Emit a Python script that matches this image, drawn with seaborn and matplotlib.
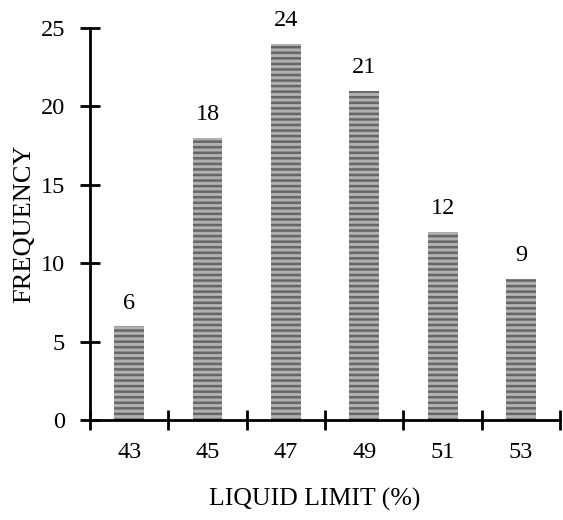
import matplotlib
matplotlib.use("Agg")
import matplotlib.pyplot as plt
import seaborn as sns
import pandas as pd
import numpy as np

categories = ["43", "45", "47", "49", "51", "53"]
frequency = [6, 18, 24, 21, 12, 9]

sns.set_style("white")
plt.rcParams['font.family'] = ['Liberation Serif', 'DejaVu Serif']
plt.rcParams['hatch.linewidth'] = 1.8
plt.rcParams['hatch.color'] = '#666666'

df = pd.DataFrame({"limit": categories, "freq": frequency})

fig = plt.figure(figsize=(5.63, 5.2), dpi=100)
ax = fig.add_axes([0.16, 0.192, 0.835, 0.754])

sns.barplot(data=df, x="limit", y="freq", ax=ax, color="#b0b0b0",
            width=0.38, saturation=1, edgecolor="none", linewidth=0)
for p in ax.patches:
    p.set_hatch('---')
    p.set_edgecolor('#666666')
    p.set_linewidth(0)

for i, v in enumerate(frequency):
    ax.text(i, v + 0.8, str(v), ha='center', va='bottom', fontsize=17.5, color='black')

ax.set_ylim(0, 25)
ax.set_xlim(-0.5, 5.5)
ax.set_yticks([0, 5, 10, 15, 20, 25])
ax.set_xticks(np.arange(-0.5, 6.0, 1.0))
ax.set_xticklabels([])
ax.set_xticks(np.arange(len(categories)), minor=True)
ax.set_xticklabels(categories, minor=True)
ax.tick_params(axis='x', which='minor', bottom=True, length=0, labelsize=17.5, pad=16, labelcolor='black')
ax.tick_params(axis='x', which='major', bottom=True, direction='inout', length=14, width=2, color='black')
ax.tick_params(axis='y', which='major', left=True, direction='inout', length=14, width=2, color='black',
               labelsize=17.5, pad=11, labelcolor='black')

for s in ['top', 'right']:
    ax.spines[s].set_visible(False)
for s in ['left', 'bottom']:
    ax.spines[s].set_linewidth(2)
    ax.spines[s].set_color('black')

ax.set_xlabel("LIQUID LIMIT (%)", fontsize=18.5, color='black')
ax.xaxis.set_label_coords(0.477, -0.172)
ax.set_ylabel("FREQUENCY", fontsize=19, color='black')
ax.yaxis.set_label_coords(-0.117, 0.5)

fig.savefig("out.png", dpi=100)
